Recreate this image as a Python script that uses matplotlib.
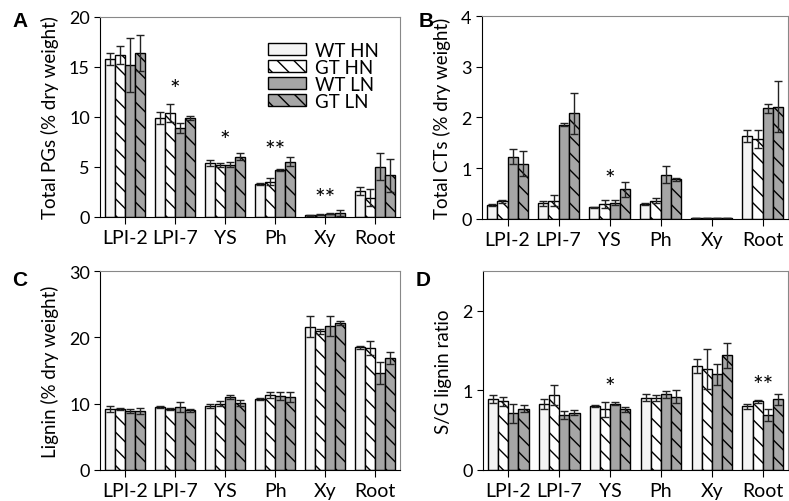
import matplotlib.pyplot as plt
from matplotlib.transforms import offset_copy
import numpy as np

plt.rcParams['font.family'] = ['Lato', 'DejaVu Sans']
plt.rcParams['hatch.linewidth'] = 1.0

tissues = ["LPI-2", "LPI-7", "YS", "Ph", "Xy", "Root"]
groups = ["WT HN", "GT HN", "WT LN", "GT LN"]

# Panel A: total PGs
pg_mean = [[15.8, 9.9, 5.35, 3.25, 0.15, 2.6],
           [16.2, 10.4, 5.2, 3.5, 0.2, 1.9],
           [15.2, 8.9, 5.2, 4.7, 0.3, 5.0],
           [16.4, 9.9, 6.0, 5.5, 0.35, 4.15]]
pg_err = [[0.6, 0.6, 0.3, 0.1, 0.05, 0.4],
          [0.9, 0.9, 0.2, 0.35, 0.05, 0.85],
          [2.7, 0.5, 0.25, 0.1, 0.05, 1.35],
          [1.8, 0.2, 0.35, 0.45, 0.3, 1.65]]
pg_stars = {1: ("*", 13.4), 2: ("*", 8.3), 3: ("**", 7.3), 4: ("**", 2.5)}

# Panel B: total CTs
ct_mean = [[0.27, 0.31, 0.23, 0.30, 0.01, 1.64],
           [0.35, 0.36, 0.30, 0.36, 0.01, 1.57],
           [1.23, 1.86, 0.32, 0.87, 0.01, 2.18],
           [1.09, 2.08, 0.58, 0.78, 0.01, 2.21]]
ct_err = [[0.02, 0.05, 0.01, 0.02, 0.0, 0.12],
          [0.03, 0.11, 0.08, 0.05, 0.0, 0.18],
          [0.14, 0.03, 0.05, 0.17, 0.0, 0.09],
          [0.24, 0.40, 0.14, 0.03, 0.0, 0.50]]
ct_stars = {2: ("*", 0.92)}

# Panel C: lignin
lig_mean = [[9.2, 9.5, 9.7, 10.7, 21.6, 18.5],
            [9.2, 9.2, 10.0, 11.3, 20.9, 18.4],
            [8.9, 9.5, 11.0, 11.1, 21.7, 14.6],
            [8.9, 9.0, 10.1, 11.0, 22.2, 16.9]]
lig_err = [[0.4, 0.1, 0.3, 0.2, 1.6, 0.2],
           [0.1, 0.2, 0.4, 0.4, 0.4, 1.1],
           [0.3, 0.7, 0.3, 0.6, 1.5, 1.7],
           [0.5, 0.2, 0.4, 0.8, 0.3, 0.9]]
lig_stars = {}

# Panel D: S/G ratio
sg_mean = [[0.89, 0.83, 0.80, 0.91, 1.31, 0.80],
           [0.86, 0.94, 0.76, 0.90, 1.27, 0.86],
           [0.71, 0.69, 0.83, 0.95, 1.20, 0.69],
           [0.77, 0.72, 0.76, 0.92, 1.44, 0.89]]
sg_err = [[0.05, 0.06, 0.01, 0.05, 0.09, 0.03],
          [0.06, 0.13, 0.09, 0.04, 0.25, 0.02],
          [0.12, 0.05, 0.02, 0.04, 0.13, 0.07],
          [0.04, 0.03, 0.03, 0.08, 0.16, 0.07]]
sg_stars = {2: ("*", 1.13), 5: ("**", 1.15)}

colors = ['#f4f4f4', 'white', '#a6a6a6', '#a6a6a6']
hatches = ['', '\\\\', '', '\\\\']


def draw_panel(ax, means, errs, stars, ylim, yticks, ylabel):
    x = np.arange(len(tissues))
    for i in range(4):
        ax.bar(x + (i - 1.5) * 0.2, means[i], 0.2, yerr=errs[i],
               color=colors[i], hatch=hatches[i], edgecolor='black',
               linewidth=1, label=groups[i],
               error_kw=dict(ecolor='#222222', elinewidth=1, capsize=3, capthick=1))
    # asterisk glyph sits high in its box, nudge it down
    star_tr = offset_copy(ax.transData, fig=ax.figure, y=-7, units='dots')
    for k, (s, y) in stars.items():
        ax.text(k, y, s, ha='center', va='center', fontsize=18, transform=star_tr)
    ax.set_xlim(-0.5, 5.5)
    ax.set_ylim(*ylim)
    ax.set_yticks(yticks)
    ax.set_xticks(x)
    ax.set_xticklabels(tissues, fontsize=14)
    ax.tick_params(axis='y', labelsize=13, direction='out', length=4)
    ax.tick_params(axis='x', direction='out', length=5, pad=4)
    ax.set_ylabel(ylabel, fontsize=13.5, labelpad=7)
    for s in ['top', 'right']:
        ax.spines[s].set_color('#888888')


fig = plt.figure(figsize=(7.89, 5.02), dpi=100)
axA = fig.add_axes([0.127, 0.566, 0.380, 0.399])
axB = fig.add_axes([0.611, 0.562, 0.388, 0.404])
axC = fig.add_axes([0.127, 0.062, 0.380, 0.396])
axD = fig.add_axes([0.612, 0.062, 0.387, 0.396])

draw_panel(axA, pg_mean, pg_err, pg_stars, (0, 20), [0, 5, 10, 15, 20],
           "Total PGs (% dry weight)")
draw_panel(axB, ct_mean, ct_err, ct_stars, (0, 4), [0, 1, 2, 3, 4],
           "Total CTs (% dry weight)")
draw_panel(axC, lig_mean, lig_err, lig_stars, (0, 30), [0, 10, 20, 30],
           "Lignin (% dry weight)")
draw_panel(axD, sg_mean, sg_err, sg_stars, (0, 2.5), [0, 1, 2],
           "S/G lignin ratio")

# panel letters
for lx, ly, lt in [(12, 12, "A"), (419, 12, "B"), (12, 271, "C"), (416, 271, "D")]:
    fig.text(lx / 789, 1 - ly / 502, lt, fontsize=15, fontweight='bold',
             family='Liberation Sans', va='top', ha='left')

axA.legend(loc='upper left', bbox_to_anchor=(0.56, 0.875), frameon=False,
           fontsize=13.5, handlelength=2.0, handleheight=0.6,
           labelspacing=0.0, handletextpad=0.5, borderaxespad=0, borderpad=0)

fig.savefig("out.png", dpi=100)
